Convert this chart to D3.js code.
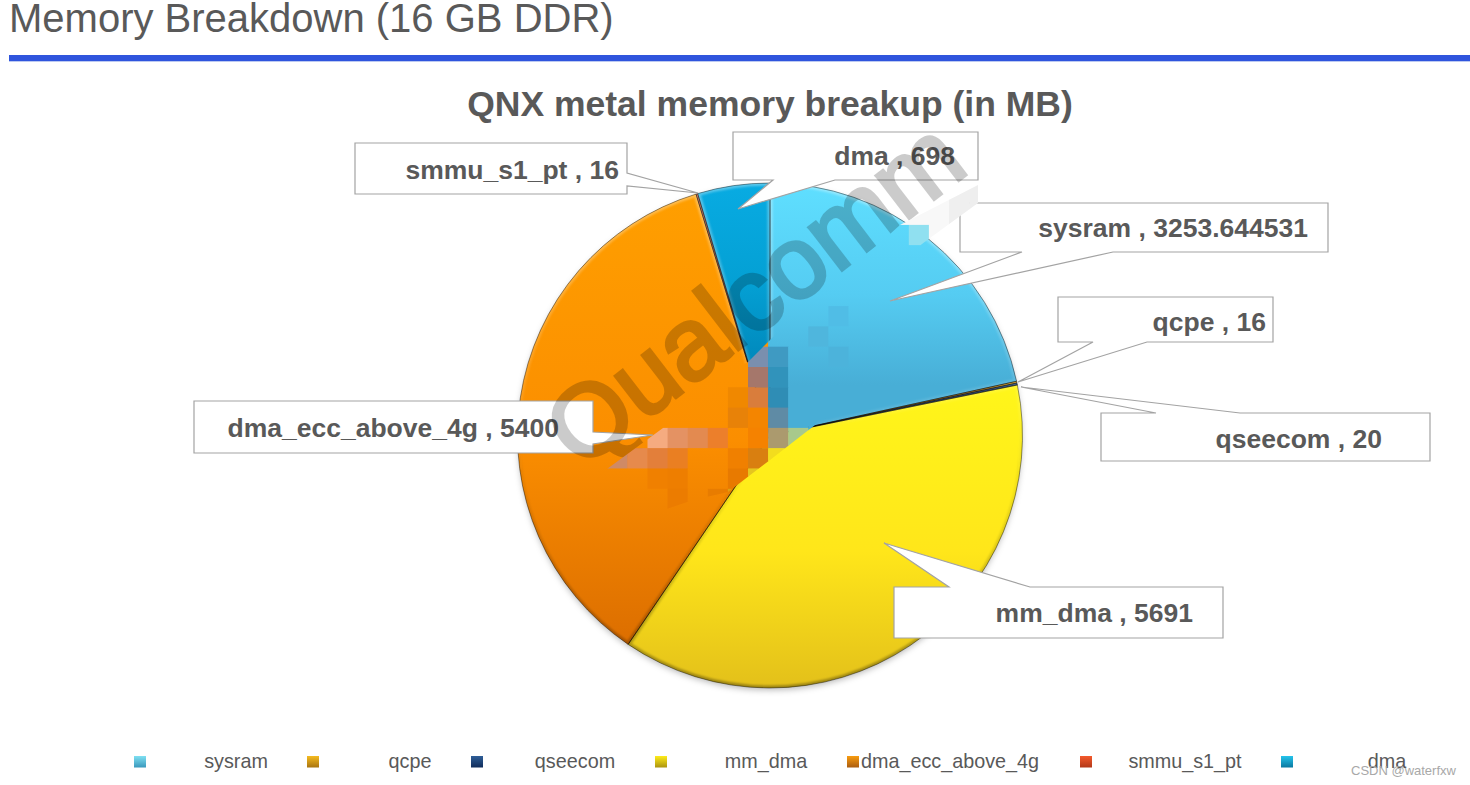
<!DOCTYPE html>
<html><head><meta charset="utf-8">
<script src="https://cdn.jsdelivr.net/npm/d3@7"></script>
<style>html,body{margin:0;padding:0;background:#fff;overflow:hidden}svg{display:block}text{font-family:"Liberation Sans",Arial,sans-serif}</style>
</head><body><svg id="c" width="1470" height="785"></svg>
<script>
// ---- data ----
const categories = ["sysram","qcpe","qseecom","mm_dma","dma_ecc_above_4g","smmu_s1_pt","dma"];
const values = [3253.644531,16,20,5691,5400,16,698];
const valueLabels = ["3253.644531","16","20","5691","5400","16","698"];
const pageTitle = "Memory Breakdown (16 GB DDR)";
const chartTitle = "QNX metal memory breakup (in MB)";
const watermark = "Qualcomm";
const credit = "CSDN @waterfxw";

// ---- styling ----
const sliceTop = ["#5fdfff","#f2b41e","#2a5a90","#fff61a","#ff9f00","#f0552a","#08abe2"];
const sliceMid = ["#55ccf2","#d8a018","#1e4578","#ffe61a","#fb8e00","#d84a22","#04a0d4"];
const sliceBottom = ["#48aed6","#b07a10","#123060","#e3c01a","#dc6e00","#b83a1a","#0088bb"];
const sliceRange = [[183,385],[380,390],[380,390],[385,688],[190,645],[190,200],[183,365]];
const swatchTop = ["#7fe0f2","#f5bb20","#2f5f98","#ffec1a","#f89c10","#f45a2c","#25c4ec"];
const swatchBottom = ["#3a98bc","#a87410","#102c5a","#ab9410","#aa5c10","#b23818","#0a78a0"];

// ---- layout ----
const cx = 770, cy = 435.5, R = 252.5;
const legendSwatchX = [134,307,471,655,847,1080,1281];
const legendTextX = [236,410,575,766,950,1185,1387];
const callouts = [
 {i:0,box:[960,203,1328,252],side:"b",tip:[890,301],base:[1022,1113],tx:1308,ty:237},
 {i:1,box:[1058,297,1273,342],side:"b",tip:[1018,382],base:[1093,1147],tx:1266,ty:331},
 {i:2,box:[1101,413,1430,461],side:"t",tip:[1021,387],base:[1156,1240],tx:1382,ty:448},
 {i:3,box:[894,587,1223,638],side:"t",tip:[884,543],base:[949,1030],tx:1193,ty:622},
 {i:4,box:[194,401,593,453],side:"r",tip:[653,435],base:[432,444],tx:559,ty:437},
 {i:5,box:[355,143,627,194],side:"r",tip:[698,193],base:[173,186],tx:619,ty:179},
 {i:6,box:[733,132,978,180],side:"b",tip:[738,209],base:[773,835],tx:955,ty:165}
];

const svg = d3.select("#c");
const defs = svg.append("defs");
categories.forEach((c,i)=>{
  const g = defs.append("linearGradient").attr("id","g"+i).attr("gradientUnits","userSpaceOnUse")
    .attr("x1",0).attr("x2",0).attr("y1",sliceRange[i][0]-cy).attr("y2",sliceRange[i][1]-cy);
  g.append("stop").attr("offset",0).attr("stop-color",sliceTop[i]);
  g.append("stop").attr("offset",.55).attr("stop-color",sliceMid[i]);
  g.append("stop").attr("offset",1).attr("stop-color",sliceBottom[i]);
  const s = defs.append("linearGradient").attr("id","s"+i).attr("x1",0).attr("x2",0).attr("y1",0).attr("y2",1);
  s.append("stop").attr("offset",0).attr("stop-color",swatchTop[i]);
  s.append("stop").attr("offset",1).attr("stop-color",swatchBottom[i]);
});
const rim = defs.append("linearGradient").attr("id","rim").attr("gradientUnits","userSpaceOnUse")
  .attr("x1",0).attr("x2",0).attr("y1",-R).attr("y2",R);
rim.append("stop").attr("offset",0).attr("stop-color","#fff").attr("stop-opacity",.35);
rim.append("stop").attr("offset",.45).attr("stop-color","#fff").attr("stop-opacity",.1);
rim.append("stop").attr("offset",.6).attr("stop-color","#000").attr("stop-opacity",.06);
rim.append("stop").attr("offset",1).attr("stop-color","#000").attr("stop-opacity",.32);
defs.append("filter").attr("id","blur").append("feGaussianBlur").attr("stdDeviation",.9);
const sh = defs.append("filter").attr("id","shadow").attr("x","-10%").attr("y","-10%").attr("width","120%").attr("height","120%");
sh.append("feDropShadow").attr("dx",0).attr("dy",3).attr("stdDeviation",3).attr("flood-color","#000").attr("flood-opacity",.28);

// page header
svg.append("text").attr("x",9).attr("y",32).attr("font-size",40).attr("fill","#595959").text(pageTitle);
svg.append("rect").attr("x",9).attr("y",55).attr("width",1461).attr("height",6).attr("fill","#2f55dd");
svg.append("rect").attr("x",9).attr("y",61).attr("width",1461).attr("height",1).attr("fill","#bcc9f2");
svg.append("text").attr("x",770).attr("y",116).attr("text-anchor","middle").attr("font-size",35.5).attr("font-weight","bold").attr("fill","#595959").text(chartTitle);

// pie
const pie = d3.pie().sort(null).value(d=>d.v)(categories.map((c,i)=>({c,v:values[i],i})));
const arc = d3.arc().innerRadius(0).outerRadius(R);
const G = svg.append("g").attr("transform",`translate(${cx},${cy})`);
G.append("circle").attr("r",R-1).attr("fill","#888").attr("filter","url(#shadow)");
pie.forEach(p=>{
  defs.append("clipPath").attr("id","cp"+p.data.i).append("path").attr("d",arc(p));
});
G.selectAll("path.slice").data(pie).join("path").attr("class","slice").attr("d",arc).attr("fill",d=>`url(#g${d.data.i})`);
pie.forEach(p=>{
  const d = arc(p), i = p.data.i;
  G.append("g").attr("clip-path",`url(#cp${i})`)
   .append("path").attr("d",d).attr("fill","none").attr("stroke","url(#rim)").attr("stroke-width",5).attr("filter","url(#blur)");
  G.append("path").attr("d",d).attr("fill","none").attr("stroke","#000").attr("stroke-opacity",.42).attr("stroke-width",1);
});

// callouts
const C = svg.append("g");
callouts.forEach(k=>{
  const [x0,y0,x1,y1]=k.box, [a,b]=k.base, [tx,ty]=k.tip;
  let pts;
  if(k.side==="b") pts=[[x0,y0],[x1,y0],[x1,y1],[b,y1],[tx,ty],[a,y1],[x0,y1]];
  if(k.side==="t") pts=[[x0,y0],[a,y0],[tx,ty],[b,y0],[x1,y0],[x1,y1],[x0,y1]];
  if(k.side==="r") pts=[[x0,y0],[x1,y0],[x1,a],[tx,ty],[x1,b],[x1,y1],[x0,y1]];
  C.append("path").attr("d",d3.line()(pts)+"Z").attr("fill","#fff").attr("stroke","#a3a3a3").attr("stroke-width",1.2);
  C.append("text").attr("x",k.tx).attr("y",k.ty).attr("text-anchor","end").attr("font-size",26.5).attr("font-weight","bold").attr("fill","#595959")
    .text(`${categories[k.i]} , ${valueLabels[k.i]}`);
});

// watermark
svg.append("g").attr("opacity",.2).append("text").attr("transform","translate(580,471) rotate(-37.5)").attr("font-size",102)
  .attr("fill","#000").attr("stroke","#000").attr("stroke-width",3.5).text(watermark);

// mosaic patch covering the watermark
const band = [[978,185],[900,225],[880,243],[847,270],[783,327],[748,362],[687,393],[663,428],[607,469],[627,500],[643,517],[693,500],[728,492],[770,460],[815,425],[843,383],[860,340],[870,283],[930,238],[978,203]];
defs.append("clipPath").attr("id","band").append("path").attr("d",d3.line()(band)+"Z");
const tint = {
 "-1,7":"#7a8fae","-1,8":"#3f9ac2","0,7":"#a5776b","0,8":"#3193bb","1,7":"#d97d3c","1,8":"#2f8db5","1,6":"#f08800",
 "2,7":"#f48500","2,8":"#5f8ba5","2,6":"#e88208","3,2":"#f5ab80","3,3":"#e49263","3,4":"#e38a50","3,5":"#ec7f2b",
 "3,7":"#f58200","3,8":"#ab9a6e","3,9":"#a8c98c","4,0":"#cf8a66","4,1":"#e68a4c","4,2":"#e37f3a","4,3":"#ea7f22",
 "4,6":"#f08000","4,7":"#d97f10","4,8":"#f2dc1e","5,6":"#e87a00","5,7":"#e5c51f","5,8":"#f5e41c","6,5":"#e87c00","6,6":"#e0a010",
 "5,2":"#f08000","5,3":"#ee7e00","6,3":"#ec7c00","-3,11":"#50bde6","-1,13":"#45a8cf","-2,10":"#4fb6dd","-1,11":"#4cb3db","-7,15":"#90e0f0","-8,17":"#efefef","-9,17":"#efefef","-9,18":"#eeeeee","-8,18":"#eeeeee"
};
const M = svg.append("g").attr("clip-path","url(#band)").append("g").attr("transform",`translate(${cx},${cy})`);
const colX = d3.scaleLinear().domain([0,1]).range([607.3,627.4]);
const rowY = d3.scaleLinear().domain([0,1]).range([367,387.3]);
d3.range(-10,8).forEach(r=>d3.range(0,20).forEach(c=>{
  const x=colX(c), y=rowY(r), w=colX(1)-colX(0), h=rowY(1)-rowY(0);
  const inside = Math.hypot(x+w/2-cx,y+h/2-cy)<R;
  const f = tint[r+","+c] || (!inside ? "#f8f8f8" : c>=8 ? "url(#g0)" : "url(#g4)");
  M.append("rect").attr("x",x-cx).attr("y",y-cy).attr("width",w+.4).attr("height",h+.4).attr("fill",f);
}));

// legend
const L = svg.append("g");
categories.forEach((c,i)=>{
  L.append("rect").attr("x",legendSwatchX[i]).attr("y",756).attr("width",12).attr("height",11.5).attr("fill",`url(#s${i})`);
  L.append("text").attr("x",legendTextX[i]).attr("y",768).attr("text-anchor","middle").attr("font-size",19.8).attr("fill","#595959").text(c);
});
svg.append("text").attr("x",1351).attr("y",775).attr("font-size",13).attr("fill","#a8a8a8").text(credit);
</script></body></html>
